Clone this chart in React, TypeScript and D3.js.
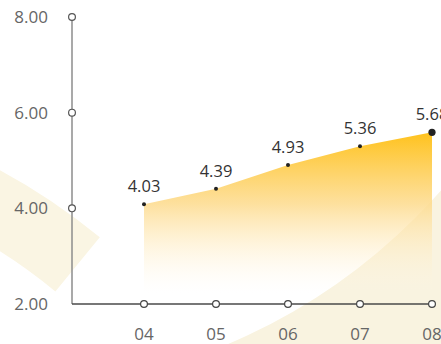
import React from "react";
import * as d3 from "d3";

// Monthly values
const categories = ["04", "05", "06", "07", "08"];
const values = [4.03, 4.39, 4.93, 5.36, 5.68];
const yTicks = [2, 4, 6, 8];

const W = 441;
const H = 344;
const FONT = "'Open Sans', 'Noto Sans', sans-serif";

export default function App() {
  // axis geometry
  const axisX = 72;
  const axisY = 304;
  const yAxis = d3.scaleLinear().domain([2, 8]).range([304, 17]);
  // plotted series scale
  const yPlot = d3.scaleLinear().domain([2, 8]).range([293, 31]);
  const x = d3.scalePoint<string>().domain(categories).range([144, 432]);

  const data = categories.map((c, i) => ({ c, v: values[i] }));

  const area = d3
    .area<{ c: string; v: number }>()
    .x((d) => x(d.c)!)
    .y0(yPlot(2))
    .y1((d) => yPlot(d.v));

  // decorative background swooshes
  const deg = Math.PI / 180;
  const bandLeft = d3.arc()({
    innerRadius: 552,
    outerRadius: 622,
    startAngle: 15 * deg,
    endAngle: 39.4 * deg,
  } as any) as string;
  const bandRight = d3.arc()({
    innerRadius: 592,
    outerRadius: 1000,
    startAngle: 95 * deg,
    endAngle: 175 * deg,
  } as any) as string;

  const last = data.length - 1;

  return (
    <svg
      width={W}
      height={H}
      style={{ position: "absolute", left: 0, top: 0, background: "#fff" }}
    >
      <defs>
        <linearGradient
          id="areaFill"
          gradientUnits="userSpaceOnUse"
          x1={0}
          x2={0}
          y1={yPlot(d3.max(values)!)}
          y2={yPlot(2)}
        >
          <stop offset="0%" stopColor="#FFC21C" stopOpacity={1} />
          <stop offset="45%" stopColor="#FDDB8E" stopOpacity={0.85} />
          <stop offset="100%" stopColor="#FFF8E6" stopOpacity={0} />
        </linearGradient>
      </defs>

      <path d={bandLeft} transform="translate(-295,718)" fill="#FAF5E3" />
      <path d={bandRight} transform="translate(-3,-201)" fill="#F9F3E0" />

      <path d={area(data)!} fill="url(#areaFill)" />

      {/* y axis */}
      <line
        x1={axisX}
        x2={axisX}
        y1={yAxis(8)}
        y2={axisY}
        stroke="#8c8c8c"
        strokeWidth={1.5}
      />
      {/* x axis */}
      <line
        x1={axisX}
        x2={x(categories[last])!}
        y1={axisY}
        y2={axisY}
        stroke="#4a4a4a"
        strokeWidth={1.5}
      />

      {yTicks.map((t) => (
        <g key={t}>
          {t !== 2 && (
            <circle
              cx={axisX}
              cy={yAxis(t)}
              r={3.4}
              fill="#fff"
              stroke="#555"
              strokeWidth={1.2}
            />
          )}
          <text
            x={48}
            y={yAxis(t)}
            dy="0.36em"
            textAnchor="end"
            fontFamily={FONT}
            fontSize={17}
            fill="#666"
          >
            {t.toFixed(2)}
          </text>
        </g>
      ))}

      {categories.map((c) => (
        <g key={c}>
          <circle
            cx={x(c)}
            cy={axisY}
            r={3.4}
            fill="#fff"
            stroke="#444"
            strokeWidth={1.2}
          />
          <text
            x={x(c)}
            y={340}
            textAnchor="middle"
            fontFamily={FONT}
            fontSize={17}
            fill="#666"
          >
            {c}
          </text>
        </g>
      ))}

      {data.map((d, i) => (
        <g key={d.c}>
          <circle
            cx={x(d.c)}
            cy={yPlot(d.v)}
            r={i === last ? 3.6 : 2}
            fill="#222"
          />
          <text
            x={x(d.c)}
            y={yPlot(d.v) - 12}
            textAnchor="middle"
            fontFamily={FONT}
            fontSize={16.5}
            fill="#333"
          >
            {d.v.toFixed(2)}
          </text>
        </g>
      ))}
    </svg>
  );
}
